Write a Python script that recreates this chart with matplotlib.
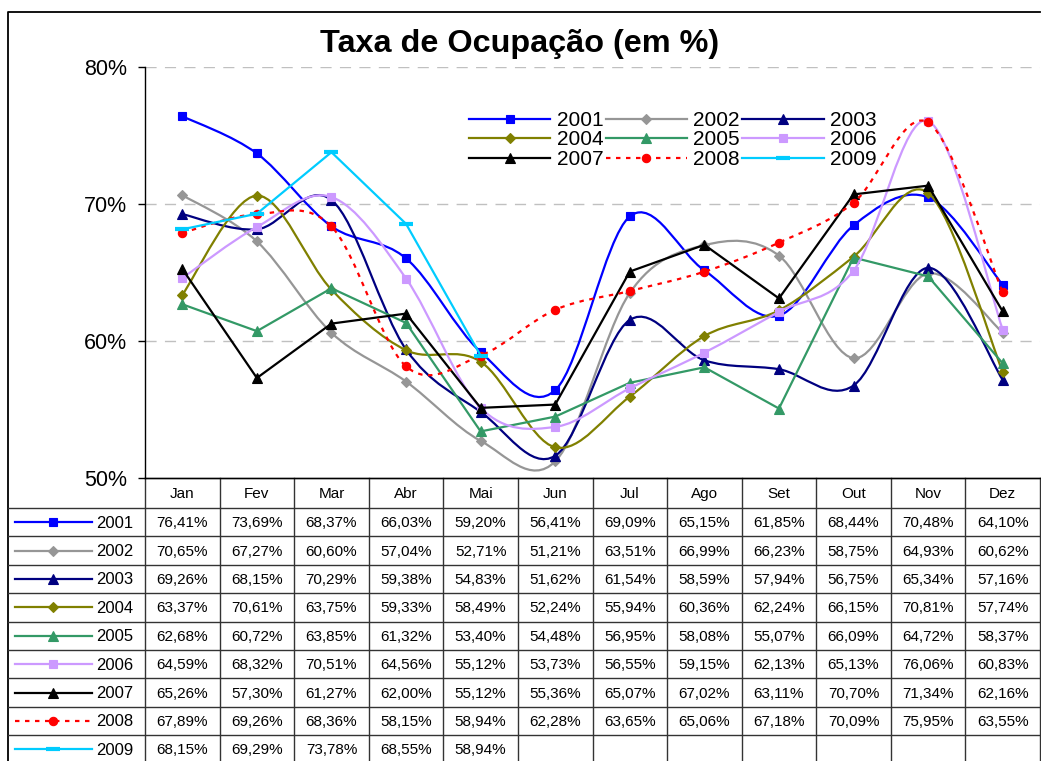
import numpy as np
import matplotlib
matplotlib.use("Agg")
import matplotlib.pyplot as plt
from matplotlib.path import Path
from matplotlib.patches import PathPatch
from matplotlib.lines import Line2D
from matplotlib.ticker import FuncFormatter

plt.rcParams['font.family'] = ['Liberation Sans', 'DejaVu Sans']

months = ["Jan", "Fev", "Mar", "Abr", "Mai", "Jun", "Jul", "Ago", "Set", "Out", "Nov", "Dez"]
years = ["2001", "2002", "2003", "2004", "2005", "2006", "2007", "2008", "2009"]

v2001 = [76.41, 73.69, 68.37, 66.03, 59.20, 56.41, 69.09, 65.15, 61.85, 68.44, 70.48, 64.10]
v2002 = [70.65, 67.27, 60.60, 57.04, 52.71, 51.21, 63.51, 66.99, 66.23, 58.75, 64.93, 60.62]
v2003 = [69.26, 68.15, 70.29, 59.38, 54.83, 51.62, 61.54, 58.59, 57.94, 56.75, 65.34, 57.16]
v2004 = [63.37, 70.61, 63.75, 59.33, 58.49, 52.24, 55.94, 60.36, 62.24, 66.15, 70.81, 57.74]
v2005 = [62.68, 60.72, 63.85, 61.32, 53.40, 54.48, 56.95, 58.08, 55.07, 66.09, 64.72, 58.37]
v2006 = [64.59, 68.32, 70.51, 64.56, 55.12, 53.73, 56.55, 59.15, 62.13, 65.13, 76.06, 60.83]
v2007 = [65.26, 57.30, 61.27, 62.00, 55.12, 55.36, 65.07, 67.02, 63.11, 70.70, 71.34, 62.16]
v2008 = [67.89, 69.26, 68.36, 58.15, 58.94, 62.28, 63.65, 65.06, 67.18, 70.09, 75.95, 63.55]
v2009 = [68.15, 69.29, 73.78, 68.55, 58.94]
series = [v2001, v2002, v2003, v2004, v2005, v2006, v2007, v2008, v2009]

# styles
colors = ["#0000FF", "#969696", "#000080", "#808000", "#339966", "#CC99FF", "#000000", "#FF0000", "#00CCFF"]
markers = ["s", "D", "^", "D", "^", "s", "^", "o", "_"]
msizes = [6, 5.5, 7, 5.5, 7, 6, 7, 6, 10]
smooth = [True, True, True, True, False, True, False, True, False]
dashed = [False] * 7 + [True, False]

W, H = 1041, 761
fig = plt.figure(figsize=(W / 100, H / 100), dpi=100)

def fx(x):
    return x / W

def fy(y):
    return 1 - y / H

# overlay axes in pixel coords for frame & table
ov = fig.add_axes([0, 0, 1, 1])
ov.set_xlim(0, W)
ov.set_ylim(H, 0)
ov.axis("off")

AX_L, AX_R, AX_T, AX_B = 145, 1040, 67, 478
ax = fig.add_axes([fx(AX_L), fy(AX_B), (AX_R - AX_L) / W, (AX_B - AX_T) / H])
ax.set_xlim(-0.5, 11.5)
ax.set_ylim(0.5, 0.8)
ax.set_yticks([0.5, 0.6, 0.7, 0.8])
ax.yaxis.set_major_formatter(FuncFormatter(lambda v, p: f"{v*100:.0f}%"))
ax.tick_params(axis="y", length=5, width=1, pad=8, labelsize=15.5, color="black")
ax.set_xticks([])
for s in ["top", "right"]:
    ax.spines[s].set_visible(False)
ax.spines["left"].set_linewidth(1)
ax.spines["bottom"].set_linewidth(1)
for g in [0.6, 0.7, 0.8]:
    ax.axhline(g, color="#C0C0C0", lw=1, ls=(0, (8, 6)), zorder=0)
ax.patch.set_alpha(0)

def smooth_path(x, y):
    pts = np.column_stack([x, y])
    n = len(pts)
    verts = [pts[0]]
    codes = [Path.MOVETO]
    for i in range(n - 1):
        p0 = pts[i - 1] if i > 0 else pts[i]
        p1 = pts[i]
        p2 = pts[i + 1]
        p3 = pts[i + 2] if i + 2 < n else pts[i + 1]
        c1 = p1 + (p2 - p0) / 6
        c2 = p2 - (p3 - p1) / 6
        verts += [c1, c2, p2]
        codes += [Path.CURVE4] * 3
    return Path(verts, codes)

handles = []
for k, vals in enumerate(series):
    x = np.arange(len(vals))
    y = np.array(vals) / 100
    ls = (0, (2, 2.5)) if dashed[k] else "-"
    lw = 1.6
    z = 2 + k
    if smooth[k]:
        ax.add_patch(PathPatch(smooth_path(x, y), fill=False, edgecolor=colors[k], lw=lw,
                               linestyle=ls, zorder=z))
    else:
        ax.plot(x, y, color=colors[k], lw=lw, ls=ls, zorder=z)
    mec = colors[k]
    mew = 3 if markers[k] == "_" else 0.8
    ax.plot(x, y, ls="none", marker=markers[k], ms=msizes[k], color=colors[k],
            mec=mec, mew=mew, zorder=z + 0.5, clip_on=False)
    handles.append(Line2D([], [], color=colors[k], lw=lw, ls=ls, marker=markers[k],
                          ms=msizes[k], mec=mec, mew=mew))

order = [0, 3, 6, 1, 4, 7, 2, 5, 8]
leg = fig.legend([handles[i] for i in order], [years[i] for i in order], ncol=3,
                 loc="upper left", bbox_to_anchor=(fx(469), fy(111)), frameon=False,
                 fontsize=15, handlelength=3.9, handletextpad=0.3, columnspacing=0.12,
                 labelspacing=0.02, borderpad=0, borderaxespad=0, numpoints=1)

# Title
fig.text(fx(520), fy(44), "Taxa de Ocupação (em %)", ha="center", va="center",
         fontsize=23.3, fontweight="bold")

# Frame
ov.plot([8, 8, 1040], [H + 5, 12, 12], color="black", lw=1.3, clip_on=False)

# Table
col_w = (AX_R - AX_L) / 12
row_top = 508
row_h = 28.4
xs = [AX_L + i * col_w for i in range(13)]
tcol = "#333333"
for xv in xs:
    ov.plot([xv, xv], [AX_B, H + 5], color=tcol, lw=1)
ov.plot([AX_L, AX_R], [AX_B, AX_B], color=tcol, lw=1)
for j in range(len(years) + 1):
    yv = row_top + j * row_h
    ov.plot([8, AX_R], [yv, yv], color=tcol, lw=1)
for i, m in enumerate(months):
    ov.text((xs[i] + xs[i + 1]) / 2, (AX_B + row_top) / 2 + 1, m, ha="center", va="center",
            fontsize=11)
for j, (yr, vals) in enumerate(zip(years, series)):
    yc = row_top + (j + 0.5) * row_h
    ls = (0, (2, 2.5)) if dashed[j] else "-"
    ov.plot([15, 92], [yc, yc], color=colors[j], lw=1.6, ls=ls)
    ov.plot([53], [yc], ls="none", marker=markers[j], ms=msizes[j], color=colors[j],
            mew=3 if markers[j] == "_" else 0.8)
    ov.text(96, yc + 1, yr, ha="left", va="center", fontsize=12)
    for i, v in enumerate(vals):
        ov.text((xs[i] + xs[i + 1]) / 2, yc + 1, f"{v:.2f}".replace(".", ",") + "%",
                ha="center", va="center", fontsize=11)

fig.savefig("out.png", dpi=100)
